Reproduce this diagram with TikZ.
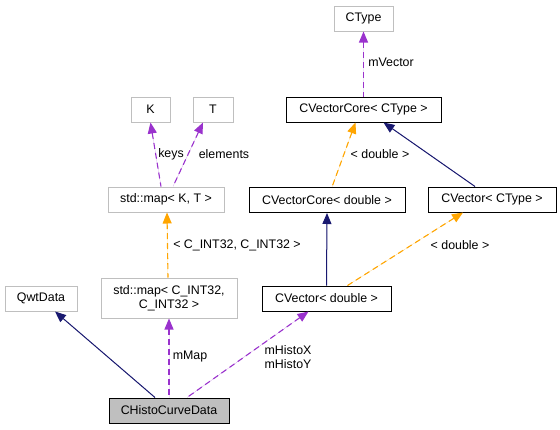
\documentclass[tikz,border=0pt]{standalone}
\usepackage{fontspec}
\setmainfont{Liberation Sans}
\usetikzlibrary{arrows.meta}
\definecolor{navyc}{HTML}{191970}
\definecolor{purpc}{HTML}{9A32CD}
\definecolor{orngc}{HTML}{FFA500}
\definecolor{grayb}{HTML}{BFBFBF}
\begin{document}
\begin{tikzpicture}[x=1pt,y=-1pt,
  every node/.style={font=\fontsize{12.4}{14.5}\selectfont, inner sep=0pt},
  boxg/.style={draw=grayb, line width=1pt, minimum height=25pt, align=center},
  boxk/.style={draw=black, line width=1pt, minimum height=25pt, align=center},
  lbl/.style={align=center},
  ahead/.style={{Triangle[length=11pt,width=9pt]}-},
  inh/.style={ahead, draw=navyc, fill=navyc, line width=1pt},
  use/.style={ahead, draw=purpc, fill=purpc, line width=1.1pt, dash pattern=on 6pt off 4pt},
  tpl/.style={ahead, draw=orngc, fill=orngc, line width=1.1pt, dash pattern=on 6pt off 4pt},
]
\useasboundingbox (0,0) rectangle (560,429);
% nodes
\node[boxg, minimum width=39pt] (K) at (150.5,109.5) {K};
\node[boxg, minimum width=40pt] (T) at (213,109.5) {T};
\node[boxg, minimum width=116pt] (mapKT) at (166,199.5) {std::map\textless{} K, T \textgreater};
\node[boxg, minimum width=59pt] (ctype) at (363.5,18.5) {CType};
\node[boxk, minimum width=155pt] (vcc) at (363.5,109.5) {CVectorCore\textless{} CType \textgreater};
\node[boxk, minimum width=156pt] (vcd) at (327,200) {CVectorCore\textless{} double \textgreater};
\node[boxk, minimum width=128pt] (vct) at (492,199.5) {CVector\textless{} CType \textgreater};
\node[boxg, minimum width=72pt] (qwt) at (41,298.5) {QwtData};
\node[boxg, minimum width=136pt, minimum height=40pt] (mapi) at (169,298) {std::map\textless{} C\_INT32,\\C\_INT32 \textgreater};
\node[boxk, minimum width=129pt] (vd) at (326.5,298.5) {CVector\textless{} double \textgreater};
\node[boxk, minimum width=120pt, fill=grayb] (chd) at (169,410.5) {CHistoCurveData};
% connectors
\draw[use] (ctype.south) -- (vcc.north);
\node[lbl] (lmv) at (391,62) {mVector};
\draw[tpl] ([xshift=-8pt]vcc.south) -- ([xshift=5pt]vcd.north);
\node[lbl] (ld1) at (380,154) {\textless{} double \textgreater};
\draw[inh] ([xshift=20pt]vcc.south) -- ([xshift=-17pt]vct.north);
\draw[inh] (vcd.south) -- (vd.north);
\draw[tpl] ([xshift=-29pt]vct.south) -- ([xshift=21pt]vd.north);
\node[lbl] (ld2) at (460,245) {\textless{} double \textgreater};
\draw[use] (K.south) -- ([xshift=-5pt]mapKT.north);
\node[lbl] (lkeys) at (171,154) {keys};
\draw[use] ([xshift=-10pt]T.south) -- ([xshift=7pt]mapKT.north);
\node[lbl] (lel) at (224,154) {elements};
\draw[tpl] ([xshift=1pt]mapKT.south) -- ([xshift=-1pt]mapi.north);
\node[lbl] (lci) at (237,245) {\textless{} C\_INT32, C\_INT32 \textgreater};
\draw[use] (mapi.south) -- (chd.north);
\node[lbl] (lmm) at (190,357) {mMap};
\draw[use] ([xshift=-18pt]vd.south) -- ([xshift=18pt]chd.north);
\node[lbl] (lmh) at (288,357) {mHistoX\\mHistoY};
\draw[inh] ([xshift=14pt]qwt.south) -- ([xshift=-14pt]chd.north);
\end{tikzpicture}
\end{document}
